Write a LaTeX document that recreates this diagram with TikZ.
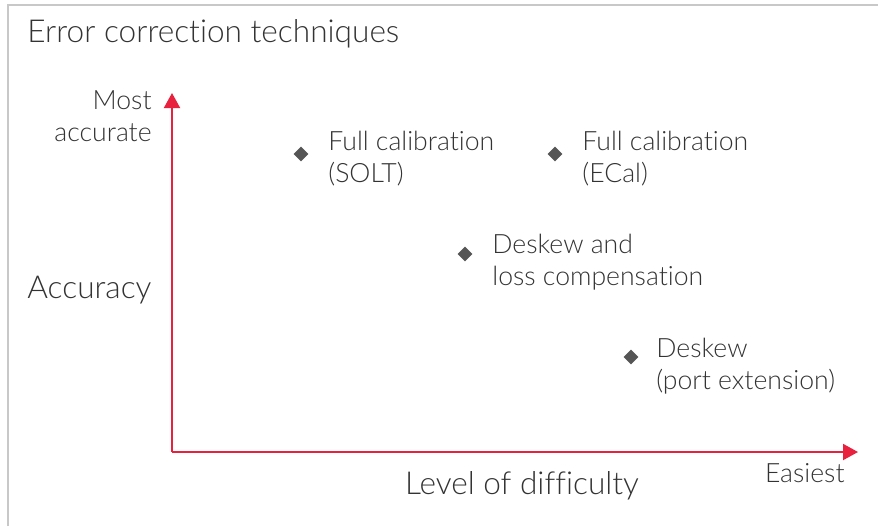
\documentclass[tikz,border=0pt]{standalone}
\usepackage{fontspec}
\setmainfont{Lato}[UprightFont=* Light,Ligatures={NoCommon,NoRequired,NoContextual}]
\usetikzlibrary{shapes.geometric,arrows.meta,positioning}
\definecolor{axisred}{HTML}{E8213E}
\definecolor{txtgray}{HTML}{333333}
\definecolor{dotgray}{HTML}{555555}
\definecolor{framegray}{HTML}{C8C8C8}
\begin{document}
\begin{tikzpicture}
  			[x=0.5pt,y=-0.5pt,
  			 every node/.style={inner sep=0pt,text=txtgray},
  			 big/.style={font=\fontsize{15.8}{18}\selectfont},
  			 small/.style={font=\fontsize{13.3}{15.7}\selectfont,align=left},
  			 point/.style={diamond,fill=dotgray,minimum size=7.5pt},
  			 axis/.style={draw=axisred,line width=1pt,-{Triangle[length=7.5pt,width=8pt]}}]
  			\useasboundingbox (0,0) rectangle (878,526);
  			\draw[framegray,line width=1pt] (7.5,526) -- (7.5,4.5) -- (878,4.5);
  			\node (title)[big,anchor=base west] at (27,42) {Error correction techniques};
  			\coordinate (o) at (172,452);
  			\coordinate (ytop) at (172,93);
  			\coordinate (xend) at (858,452);
  			\draw[axis] (o) -- (ytop);
  			\draw[axis] (o) -- (xend);
  			\node (most)[small,align=right,anchor=base east] at (152,141) {Most\\accurate};
  			\node (acc)[big,anchor=base west] at (27,298) {Accuracy};
  			\node (level)[big,anchor=base] at (522,494) {Level of difficulty};
  			\node (easy)[small,anchor=base east] at (845,482) {Easiest};
  			% techniques
  			\node (p1)[point] at (301,154) {};
  			\node (p2)[point] at (555,154) {};
  			\node (p3)[point] at (465,254) {};
  			\node (p4)[point] at (631,357) {};
  			\node (solt)[small,anchor=base west] at (328,182) {Full calibration\\(SOLT)};
  			\node (ecal)[small,anchor=base west] at (582,182) {Full calibration\\(ECal)};
  			\node (deskloss)[small,anchor=base west] at (492,285) {Deskew and\\loss compensation};
  			\node (desk)[small,anchor=base west] at (656,389) {Deskew\\(port extension)};
	\end{tikzpicture}
\end{document}
